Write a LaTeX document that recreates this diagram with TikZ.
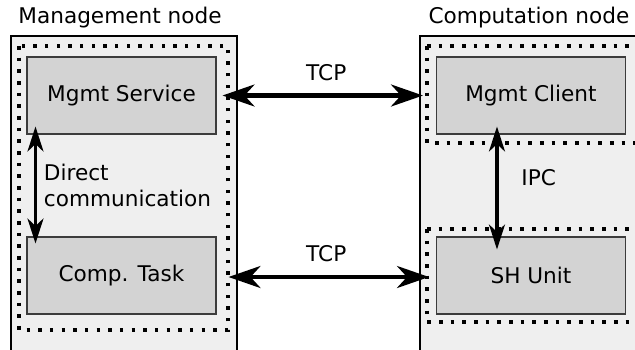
\documentclass[tikz,border=0pt]{standalone}
\usepackage{fontspec}
\setmainfont{DejaVu Sans}
\usepackage{xcolor}
\definecolor{hostgray}{RGB}{239,239,239}
\definecolor{unitgray}{RGB}{211,211,211}
\definecolor{unitedge}{RGB}{60,60,60}
\usetikzlibrary{positioning,arrows.meta,calc}
\newcommand{\hostframe}[2]{%
  \fill[hostgray] #1 rectangle #2;
  \draw[line width=0.9pt] #1 rectangle #2;}

\begin{document}
\begin{tikzpicture}[x=0.02cm,y=-0.02cm,
    font=\fontsize{12.3}{14.6}\selectfont,
    unitbox/.style={draw=unitedge,fill=unitgray,line width=0.6pt,minimum width=3.78cm,minimum height=1.54cm,inner sep=0pt},
    dotframe/.style={line width=2pt,dash pattern=on 2pt off 4.64pt},
    linkarrow/.style={line width=2.3pt,{Stealth[length=0.64cm,width=0.44cm,inset=0.2cm]}-{Stealth[length=0.64cm,width=0.44cm,inset=0.2cm]}},
    localarrow/.style={line width=1.8pt,{Stealth[length=0.5cm,width=0.32cm,inset=0.15cm]}-{Stealth[length=0.5cm,width=0.32cm,inset=0.15cm]}}]
  \clip (0,0) rectangle (635,349);
  \fill[white] (0,0) rectangle (635,349);
  % hosts
  \hostframe{(11,36)}{(237,365)}
  \hostframe{(420,36)}{(650,365)}
  \node (mgmttitle) at (120,18) {Management node};
  \node (comptitle) at (529,18) {Computation node};
  % process groups
  \draw[dotframe] (19,46) rectangle (228,330);
  \draw[dotframe] (427,46) -- (640,46) (427,46) -- (427,143) -- (640,143);
  \draw[dotframe] (427,229) -- (640,229) (427,229) -- (427,322) -- (640,322);
  \node[unitbox] (mgmtservice) at (121.5,95.5) {Mgmt Service};
  \node[unitbox] (comptask) at (121.5,275.5) {Comp. Task};
  \node[unitbox] (mgmtclient) at (531,95.5) {Mgmt Client};
  \node[unitbox] (shunit) at (531,275.5) {SH Unit};
  % links
  \draw[linkarrow,shorten <=0.12cm,shorten >=0.26cm] (mgmtservice.east) -- (mgmtclient.west)
    node[midway,above=0.14cm] (tcpup) {TCP};
  \draw[linkarrow,shorten <=0.24cm,shorten >=0.14cm] ([yshift=-0.03cm]comptask.east) -- ([yshift=-0.03cm]shunit.west)
    node[midway,above=0.14cm] (tcpdown) {TCP};
  \draw[localarrow,shorten <=-0.16cm,shorten >=-0.14cm] ([xshift=0.18cm]mgmtservice.south west) -- ([xshift=0.18cm]comptask.north west)
    node[midway,right=0.02cm,align=left] (directlbl) {Direct\\communication};
  \draw[localarrow,shorten <=-0.16cm,shorten >=-0.26cm] ([xshift=1.22cm]mgmtclient.south west) -- ([xshift=1.22cm]shunit.north west)
    node[pos=0.42,right=0.34cm] (ipclbl) {IPC};
\end{tikzpicture}
\end{document}
